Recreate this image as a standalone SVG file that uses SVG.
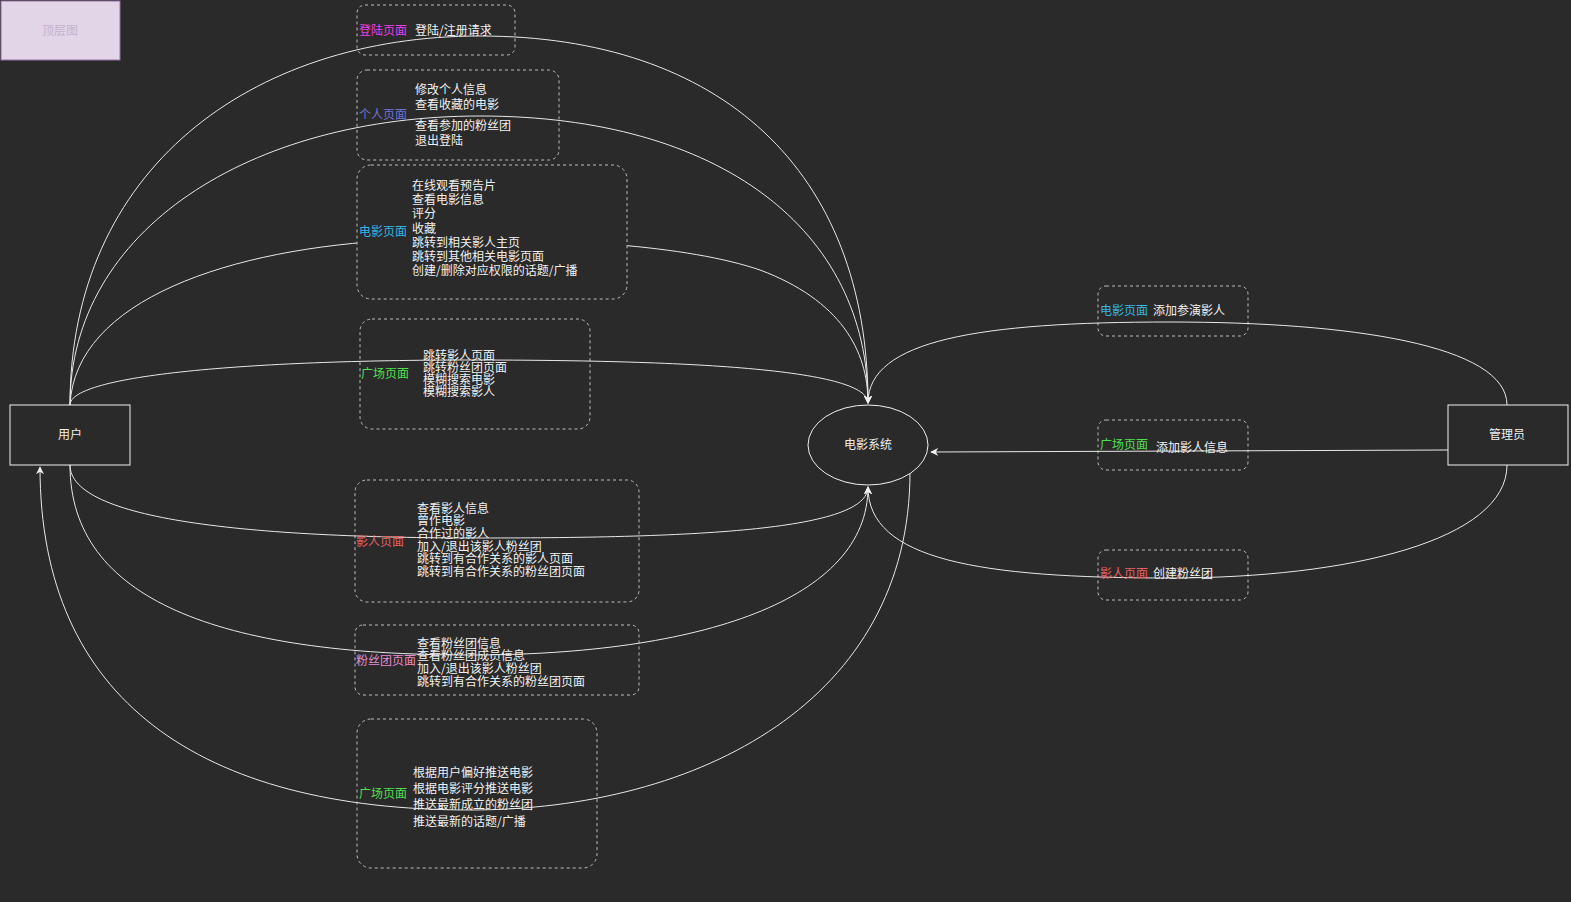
<svg xmlns="http://www.w3.org/2000/svg" width="1571" height="902" viewBox="0 0 1571 902">
<defs>
<marker id="arr" viewBox="0 0 10 10" refX="9" refY="5" markerWidth="8" markerHeight="8" markerUnits="userSpaceOnUse" orient="auto">
<path d="M0,0 L10,5 L0,10 L3,5 Z" fill="#f0f0f0"/>
</marker>
<style>
text{font-family:"Noto Sans CJK SC","Liberation Sans",sans-serif;font-size:12px;fill:#f0f0f0}
.node{fill:#2a2a2a;stroke:#f0f0f0;stroke-width:1}
.grp{fill:none;stroke:#bdbdbd;stroke-width:1;stroke-dasharray:3 3}
.edge{fill:none;stroke:#e8e8e8;stroke-width:1}
.c{text-anchor:middle}
.mag{fill:#e83ee8}
.pur{fill:#6f72d8}
.blu{fill:#35b6e6}
.grn{fill:#4fe04f}
.red{fill:#e86060}
.pink{fill:#e88ac8}
</style>
</defs>
<rect x="0" y="0" width="1571" height="902" fill="#2a2a2a"/>

<g id="title">
<rect x="1" y="1" width="119" height="59" fill="#e1d5e7" stroke="#9673a6"/>
<text x="60" y="35" class="c" style="fill:#c4b2cd">顶层图</text>
</g>

<g id="groups-under">
<rect class="grp" x="357" y="5" width="158" height="50" rx="8"/>
<rect class="grp" x="357" y="70" width="202" height="90" rx="10"/>
<rect class="grp" x="360" y="319" width="230" height="110" rx="12"/>
<rect class="grp" x="355" y="480" width="284" height="122" rx="12"/>
<rect class="grp" x="355" y="625" width="284" height="70" rx="8"/>
<rect class="grp" x="357" y="719" width="240" height="149" rx="14"/>
<rect class="grp" x="1098" y="286" width="150" height="50" rx="8"/>
<rect class="grp" x="1098" y="420" width="150" height="50" rx="8"/>
<rect class="grp" x="1098" y="550" width="150" height="50" rx="8"/>
</g>

<g id="connectors">
<path class="edge" d="M70,405 C70,170 250,36 480,36 C720,36 868,170 868,403" marker-end="url(#arr)"/>
<path class="edge" d="M70,405 C70,230 250,116 480,116 C720,116 868,230 868,403" marker-end="url(#arr)"/>
<path class="edge" d="M70,405 C75,300 230,248 400,240 C560,236 690,246 760,270 C840,300 868,350 868,403" marker-end="url(#arr)"/>
<path class="edge" d="M70,405 C70,375 250,360 470,360 C700,360 868,370 868,403" marker-end="url(#arr)"/>
<path class="edge" d="M1507,405 C1507,345 1350,322 1170,322 C980,322 868,340 868,403" marker-end="url(#arr)"/>
<path class="edge" d="M70,465 C70,520 250,538 480,538 C700,538 868,530 868,487" marker-end="url(#arr)"/>
<path class="edge" d="M70,465 C70,600 220,655 470,655 C700,655 868,600 868,487" marker-end="url(#arr)"/>
<path class="edge" d="M1507,465 C1507,540 1350,578 1170,578 C980,578 868,560 868,487" marker-end="url(#arr)"/>
<path class="edge" d="M910,472 C910,700 700,810 470,810 C200,810 40,700 40,467" marker-end="url(#arr)"/>
<path class="edge" d="M1448,450 L931,452" marker-end="url(#arr)"/>
</g>

<g id="g-movie">
<rect x="357" y="165" width="270" height="134" rx="14" fill="#2a2a2a" stroke="#bdbdbd" stroke-dasharray="3 3"/>
<text x="359" y="236" class="blu">电影页面</text>
<text x="412" y="190">在线观看预告片</text>
<text x="412" y="204">查看电影信息</text>
<text x="412" y="218">评分</text>
<text x="412" y="233">收藏</text>
<text x="412" y="247">跳转到相关影人主页</text>
<text x="412" y="261">跳转到其他相关电影页面</text>
<text x="412" y="275">创建/删除对应权限的话题/广播</text>
</g>

<g id="g-login">
<text x="359" y="35" class="mag">登陆页面</text>
<text x="415" y="35">登陆/注册请求</text>
</g>

<g id="g-personal">
<text x="359" y="119" class="pur">个人页面</text>
<text x="415" y="94">修改个人信息</text>
<text x="415" y="109">查看收藏的电影</text>
<text x="415" y="130">查看参加的粉丝团</text>
<text x="415" y="145">退出登陆</text>
</g>

<g id="g-square1">
<text x="361" y="378" class="grn">广场页面</text>
<text x="423" y="360">跳转影人页面</text>
<text x="423" y="372">跳转粉丝团页面</text>
<text x="423" y="384">模糊搜索电影</text>
<text x="423" y="396">模糊搜索影人</text>
</g>

<g id="g-person">
<text x="356" y="546" class="red">影人页面</text>
<text x="417" y="513">查看影人信息</text>
<text x="417" y="525">曾作电影</text>
<text x="417" y="538">合作过的影人</text>
<text x="417" y="551">加入/退出该影人粉丝团</text>
<text x="417" y="563">跳转到有合作关系的影人页面</text>
<text x="417" y="576">跳转到有合作关系的粉丝团页面</text>
</g>

<g id="g-fans">
<text x="356" y="665" class="pink">粉丝团页面</text>
<text x="417" y="648">查看粉丝团信息</text>
<text x="417" y="660">查看粉丝团成员信息</text>
<text x="417" y="673">加入/退出该影人粉丝团</text>
<text x="417" y="686">跳转到有合作关系的粉丝团页面</text>
</g>

<g id="g-square2">
<text x="359" y="798" class="grn">广场页面</text>
<text x="413" y="777">根据用户偏好推送电影</text>
<text x="413" y="793">根据电影评分推送电影</text>
<text x="413" y="809">推送最新成立的粉丝团</text>
<text x="413" y="826">推送最新的话题/广播</text>
</g>

<g id="g-admin-movie">
<text x="1100" y="315" class="blu">电影页面</text>
<text x="1153" y="315">添加参演影人</text>
</g>
<g id="g-admin-square">
<text x="1100" y="449" class="grn">广场页面</text>
<text x="1156" y="452">添加影人信息</text>
</g>
<g id="g-admin-person">
<text x="1100" y="578" class="red">影人页面</text>
<text x="1153" y="578">创建粉丝团</text>
</g>

<g id="user">
<rect class="node" x="10" y="405" width="120" height="60"/>
<text x="70" y="439" class="c">用户</text>
</g>
<g id="admin">
<rect class="node" x="1448" y="405" width="120" height="60"/>
<text x="1507" y="439" class="c">管理员</text>
</g>
<g id="system">
<ellipse class="node" cx="868" cy="445" rx="60" ry="40"/>
<text x="868" y="449" class="c">电影系统</text>
</g>
</svg>
